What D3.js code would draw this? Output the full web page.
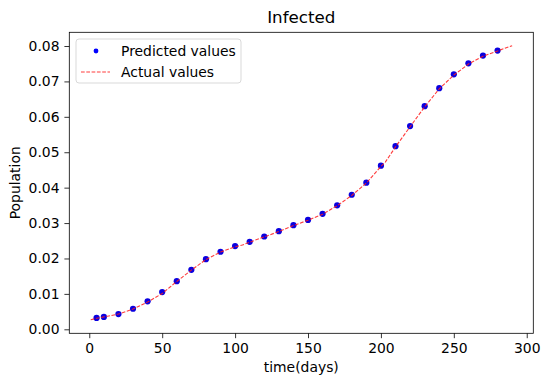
<!DOCTYPE html>
<html>
<head>
<meta charset="utf-8">
<script src="https://cdn.jsdelivr.net/npm/d3@7"></script>
<style>
  body { margin: 0; background: #fff; }
  svg { font-family: 'DejaVu Sans', sans-serif; }
</style>
</head>
<body>
<div id="chart"></div>
<script>
// predicted (dots)
var predDays = [5, 10, 20, 30, 40, 50, 60, 70, 80, 90, 100, 110, 120, 130, 140, 150, 160, 170, 180, 190, 200, 210, 220, 230, 240, 250, 260, 270, 280]
var predValues = [0.0032, 0.0035, 0.0043, 0.0058, 0.0079, 0.0105, 0.0136, 0.0168, 0.0198, 0.0219, 0.0235, 0.0247, 0.0262, 0.0277, 0.0294, 0.0309, 0.0326, 0.0350, 0.0380, 0.0414, 0.0462, 0.0517, 0.0574, 0.0630, 0.0681, 0.0720, 0.0751, 0.0773, 0.0787]
// actual (dashed line)
var actualDays = [1, 5, 10, 20, 30, 40, 50, 55, 60, 70, 80, 90, 100, 105, 110, 120, 130, 140, 150, 160, 170, 180, 190, 200, 203, 210, 220, 230, 240, 250, 255, 260, 270, 280, 290]
var actualValues = [0.0027, 0.0031, 0.0035, 0.0043, 0.0057, 0.0077, 0.0101, 0.0118, 0.0135, 0.0167, 0.0197, 0.0218, 0.0233, 0.0238, 0.0246, 0.0261, 0.0276, 0.0293, 0.0308, 0.0325, 0.0349, 0.0378, 0.0413, 0.0460, 0.0472, 0.0515, 0.0572, 0.0628, 0.0679, 0.0718, 0.0733, 0.0749, 0.0771, 0.0786, 0.0801]
var xTicks = [0, 50, 100, 150, 200, 250, 300]
var yTicks = [0, 0.01, 0.02, 0.03, 0.04, 0.05, 0.06, 0.07, 0.08]

var W = 550, H = 383
var margin = { top: 32.3, right: 16.7, bottom: 49.7, left: 69.3 }
var width = W - margin.left - margin.right,
  height = H - margin.top - margin.bottom

var svg = d3.select('#chart').append('svg')
  .attr('width', W).attr('height', H)

var g = svg.append('g')
  .attr('transform', 'translate(' + margin.left + ',' + margin.top + ')')

var x = d3.scaleLinear().domain([-13.7, 304.5]).range([0, width])
var y = d3.scaleLinear().domain([-0.00113, 0.08387]).range([height, 0])

// axes
var xAxis = g.append('g')
  .attr('transform', 'translate(0,' + height + ')')
  .call(d3.axisBottom(x).tickValues(xTicks).tickSize(4.9).tickPadding(4.9).tickFormat(d3.format('d')))
var yAxis = g.append('g')
  .call(d3.axisLeft(y).tickValues(yTicks).tickSize(4.9).tickPadding(4.9).tickFormat(d3.format('.2f')))

;[xAxis, yAxis].forEach(a => {
  a.select('.domain').remove()
  a.selectAll('line').attr('stroke', '#000').attr('stroke-width', 0.8)
  a.selectAll('text').attr('fill', '#000').attr('font-size', 13.9)
    .attr('font-family', "'DejaVu Sans', sans-serif")
})

// frame
g.append('rect')
  .attr('width', width).attr('height', height)
  .attr('fill', 'none').attr('stroke', '#000').attr('stroke-width', 0.8)

// predicted dots
g.selectAll('circle.pred')
  .data(predDays.map((d, i) => [d, predValues[i]]))
  .enter().append('circle')
  .attr('class', 'pred')
  .attr('cx', d => x(d[0]))
  .attr('cy', d => y(d[1]))
  .attr('r', 3.1)
  .attr('fill', '#0a00e0')

// actual line on top
g.append('path')
  .datum(actualDays.map((d, i) => [d, actualValues[i]]))
  .attr('fill', 'none')
  .attr('stroke', '#ff1a1a')
  .attr('stroke-opacity', 0.85)
  .attr('stroke-width', 1.1)
  .attr('stroke-dasharray', '3.7,1.6')
  .attr('d', d3.line().x(d => x(d[0])).y(d => y(d[1])))

// title + labels
svg.append('text')
  .attr('x', margin.left + width / 2).attr('y', 23)
  .attr('text-anchor', 'middle').attr('font-size', 16.7)
  .text('Infected')

svg.append('text')
  .attr('x', margin.left + width / 2).attr('y', 372)
  .attr('text-anchor', 'middle').attr('font-size', 13.9)
  .text('time(days)')

svg.append('text')
  .attr('transform', 'translate(20,' + (margin.top + height / 2) + ') rotate(-90)')
  .attr('text-anchor', 'middle').attr('font-size', 13.9)
  .text('Population')

// legend
var lg = svg.append('g').attr('transform', 'translate(76,39)')
lg.append('rect')
  .attr('width', 165).attr('height', 44).attr('rx', 3)
  .attr('fill', '#fff').attr('fill-opacity', 0.8)
  .attr('stroke', '#d9d9d9').attr('stroke-width', 1)
lg.append('circle').attr('cx', 20).attr('cy', 12).attr('r', 2.4).attr('fill', '#0000ff')
lg.append('line')
  .attr('x1', 5).attr('x2', 34).attr('y1', 33).attr('y2', 33)
  .attr('stroke', '#ff1a1a').attr('stroke-opacity', 0.85)
  .attr('stroke-width', 1.1).attr('stroke-dasharray', '3.7,1.6')
lg.append('text').attr('x', 45).attr('y', 17).attr('font-size', 13.9).text('Predicted values')
lg.append('text').attr('x', 45).attr('y', 37.5).attr('font-size', 13.9).text('Actual values')
</script>
</body>
</html>
